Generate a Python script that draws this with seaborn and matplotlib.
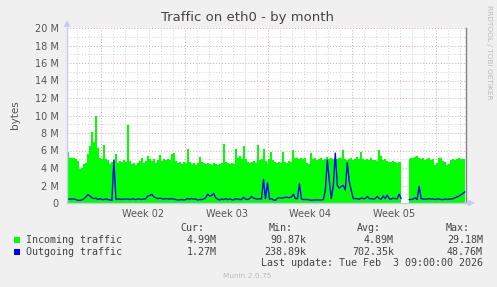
import numpy as np
import pandas as pd
import matplotlib
matplotlib.use("Agg")
import matplotlib.pyplot as plt
from matplotlib.patches import Polygon
from matplotlib.lines import Line2D
import seaborn as sns

# ---- data (values in M bytes, one sample every 4 hours) ----
nan = np.nan
incoming_m = [
    5.8, 5.2, 5.1, 5.1, 5.0, 4.8, 3.9, 4.0, 4.5, 4.6,
    5.6, 6.5, 8.1, 7.0, 9.9, 6.3, 5.2, 5.0, 6.6, 5.0,
    4.9, 4.5, 4.7, 4.8, 5.6, 4.6, 4.8, 4.7, 4.9, 4.7,
    8.9, 4.8, 4.5, 4.6, 4.3, 4.6, 4.8, 5.2, 4.6, 4.8,
    5.4, 5.0, 4.8, 5.0, 4.6, 4.9, 5.5, 4.8, 5.0, 4.9,
    5.0, 4.9, 5.6, 5.7, 4.8, 4.6, 4.7, 4.5, 4.7, 4.6,
    6.2, 4.7, 4.5, 4.6, 4.4, 4.6, 5.3, 4.7, 4.6, 4.5,
    4.6, 4.5, 4.4, 4.6, 4.5, 4.4, 4.5, 4.6, 6.8, 4.7,
    4.6, 4.5, 4.6, 4.5, 6.2, 5.2, 5.4, 5.0, 6.5, 5.0,
    4.7, 4.6, 4.7, 4.8, 4.6, 6.6, 4.9, 5.0, 6.2, 4.8,
    4.6, 5.0, 5.8, 4.9, 4.7, 4.6, 4.7, 4.6, 5.8, 4.7,
    4.6, 4.8, 4.7, 6.1, 5.1, 5.2, 5.0, 5.1, 5.0, 5.2,
    4.6, 4.5, 5.7, 5.0, 5.1, 4.9, 5.0, 5.1, 4.9, 5.0,
    5.3, 5.0, 5.1, 5.0, 5.1, 5.0, 5.2, 5.1, 6.1, 5.0,
    4.9, 5.0, 5.2, 4.9, 5.0, 5.3, 5.0, 5.8, 5.0, 4.9,
    5.0, 4.9, 5.1, 4.9, 4.9, 4.8, 6.1, 5.4, 4.9, 5.0,
    4.8, 4.7, 4.7, 4.8, 4.7, 4.6, 4.7, 4.7, nan, nan,
    nan, 5.0, 5.1, 5.2, 5.3, 5.4, 5.1, 5.0, 5.1, 4.9,
    5.0, 5.1, 4.9, 5.0, 4.4, 4.6, 5.1, 5.2, 4.8, 4.7,
    4.4, 4.5, 4.9, 5.0, 4.9, 5.0, 5.1, 5.0, 5.0, 4.99,
]
outgoing_m = [
    0.45, 0.45, 0.45, 0.45, 0.4, 0.3, 0.3, 0.35, 0.5, 0.7,
    0.95, 0.8, 0.6, 0.5, 0.55, 0.4, 0.5, 0.4, 0.4, 0.45,
    0.4, 0.35, 0.3, 4.9, 0.45, 0.45, 0.45, 0.4, 0.45, 0.45,
    0.45, 0.4, 0.45, 0.45, 0.4, 0.45, 0.45, 0.4, 0.45, 0.5,
    0.8, 0.85, 1.0, 0.7, 0.6, 0.5, 0.55, 0.5, 0.45, 0.5,
    0.5, 0.45, 0.5, 0.45, 0.4, 0.35, 0.35, 0.4, 0.35, 0.4,
    0.5, 0.45, 0.5, 0.45, 0.45, 0.35, 0.4, 0.4, 0.45, 0.6,
    1.0, 0.8, 0.85, 1.1, 0.6, 0.45, 0.35, 0.45, 0.4, 0.5,
    0.4, 0.45, 0.4, 0.35, 0.5, 0.45, 0.4, 0.4, 0.65, 0.45,
    0.4, 0.5, 0.75, 0.55, 0.5, 0.45, 0.5, 0.45, 2.7, 0.5,
    2.3, 0.45, 0.5, 0.35, 0.3, 0.55, 0.6, 0.55, 0.6, 0.65,
    0.65, 0.6, 0.7, 1.0, 0.5, 0.5, 2.2, 0.45, 0.4, 0.4,
    0.4, 0.35, 0.3, 0.35, 0.35, 0.35, 0.35, 0.35, 0.4, 1.5,
    4.9, 2.5, 0.5, 2.0, 5.7, 2.0, 1.7, 1.9, 2.0, 1.5,
    4.6, 2.4, 1.4, 0.5, 0.5, 0.5, 0.45, 0.55, 0.5, 0.5,
    0.75, 0.5, 0.5, 0.45, 0.5, 0.75, 0.5, 0.45, 0.8, 0.5,
    0.9, 0.5, 0.45, 0.55, 0.5, 0.5, 1.0, 0.5, nan, nan,
    nan, 0.4, 0.4, 0.45, 0.6, 0.4, 1.9, 0.5, 0.45, 0.45,
    0.45, 0.5, 0.45, 0.45, 0.4, 0.45, 0.45, 0.4, 0.4, 0.45,
    0.4, 0.45, 0.45, 0.5, 0.6, 0.7, 0.8, 0.95, 1.1, 1.27,
]
sample_hours = 4
first_monday_hour = 68          # hours from graph start to Monday Jan 5 00:00
week_labels = ["Week 02", "Week 03", "Week 04", "Week 05"]
y_ticks = [0, 2, 4, 6, 8, 10, 12, 14, 16, 18, 20]
y_ticklabels = ["0"] + [f"{v} M" for v in y_ticks[1:]]
series_names = ["Incoming traffic", "Outgoing traffic"]
series_colors = ["#00FF00", "#0000FF"]
cur_vals = ["4.99M", "1.27M"]
min_vals = ["90.87k", "238.89k"]
avg_vals = ["4.89M", "702.35k"]
max_vals = ["29.18M", "48.76M"]
title = "Traffic on eth0 - by month"
last_update = "Last update: Tue Feb  3 09:00:00 2026"

# ---- build frame ----
n = len(incoming_m)
hours = np.arange(n) * sample_hours + sample_hours / 2
df = pd.DataFrame({"hour": hours, "incoming": incoming_m, "outgoing": outgoing_m})
total_hours = n * sample_hours

sns.set_style("white")
plt.rcParams["font.family"] = ["DejaVu Sans"]

W, H = 497, 287
fig = plt.figure(figsize=(W / 100, H / 100), dpi=100, facecolor="#F0F0F0")
ax = fig.add_axes([67 / W, (H - 203) / H, 399 / W, 175 / H])
ax.set_facecolor("white")
ax.set_xlim(0, total_hours)
ax.set_ylim(0, 20)

# grid (behind the data)
minor_col, major_col = "#D2D2D2", "#E8A0A0"
dot = (0, (1, 2))
for h in np.arange(first_monday_hour % 24, total_hours, 24):
    is_major = (h - first_monday_hour) % 168 == 0
    ax.axvline(h, color=major_col if is_major else minor_col, lw=0.7, ls=dot, zorder=0)
for v in range(1, 21):
    ax.axhline(v, color=major_col if v % 2 == 0 else minor_col, lw=0.7, ls=dot, zorder=0)

# incoming area
ax.fill_between(df["hour"], 0, df["incoming"], step="mid", color=series_colors[0],
                lw=0, zorder=2)

# outgoing line, drawn per contiguous segment
valid = df["outgoing"].notna()
seg_id = (valid != valid.shift()).cumsum()
for _, seg in df[valid].groupby(seg_id[valid]):
    sns.lineplot(data=seg, x="hour", y="outgoing", ax=ax, color=series_colors[1],
                 lw=1.0, estimator=None, sort=False, zorder=3, legend=False)

# axes styling
ax.set_xlabel("")
ax.set_ylabel("")
ax.set_yticks(y_ticks)
ax.set_yticklabels(y_ticklabels)
label_pos = [first_monday_hour + 84 + 168 * k for k in range(len(week_labels))]
ax.set_xticks(label_pos)
ax.set_xticklabels(week_labels)
ax.tick_params(axis="both", length=0, labelsize=7, labelcolor="#555555")
ax.tick_params(axis="y", pad=6)
ax.tick_params(axis="x", pad=4)
for s in ["top"]:
    ax.spines[s].set_visible(False)
ax.spines["left"].set_color("#C8CCF0")
ax.spines["bottom"].set_color("#C8CCE0")
ax.spines["right"].set_color("#808080")
for s in ["left", "bottom", "right"]:
    ax.spines[s].set_linewidth(1.0)
    ax.spines[s].set_zorder(5)

# axis arrows (decoration)
fig.patches.append(Polygon([[63.5, H - 27], [70.5, H - 27], [67, H - 20]], closed=True,
                           transform=None, facecolor="#C8CCF0", edgecolor="none"))
fig.lines.append(Line2D([466, 469], [H - 203, H - 203], transform=None, color="#C8CCE0", lw=1))
fig.patches.append(Polygon([[468, H - 199.5], [468, H - 206.5], [475, H - 203]], closed=True,
                           transform=None, facecolor="#C8CCF0", edgecolor="none"))

# titles / labels
fig.text(247.5 / W, 1 - 18 / H, title, ha="center", va="center", fontsize=9.5, color="#444444")
fig.text(15 / W, 1 - 115 / H, "bytes", ha="center", va="center", rotation=90,
         fontsize=7.5, color="#555555")
fig.text(488.5 / W, 1 - 5 / H, "RRDTOOL / TOBI OETIKER", ha="center", va="top",
         rotation=270, fontsize=5.3, color="#BBBBBB")

# legend block (monospace)
mono = dict(family="DejaVu Sans Mono", fontsize=7.2, color="#444444", va="center")
col_right = [204, 293, 381, 470]
for xr, hdr in zip(col_right, ["Cur:", "Min:", "Avg:", "Max:"]):
    fig.text(xr / W, 1 - 228 / H, hdr, ha="right", **mono)
val_right = [217, 306, 394, 483]
rows_y = [240, 252]
for k in range(2):
    y = rows_y[k]
    fig.patches.append(Polygon([[14, H - y + 3], [20, H - y + 3], [20, H - y - 3], [14, H - y - 3]],
                               closed=True, transform=None, facecolor=series_colors[k],
                               edgecolor="none"))
    fig.text(26 / W, 1 - y / H, series_names[k], ha="left", **mono)
    for xr, vals in zip(val_right, [cur_vals, min_vals, avg_vals, max_vals]):
        fig.text(xr / W, 1 - y / H, vals[k], ha="right", **mono)
fig.text(483 / W, 1 - 263.5 / H, last_update, ha="right", **mono)
fig.text(247.5 / W, 1 - 276 / H, "Munin 2.0.75", ha="center", va="center",
         fontsize=5.3, color="#BBBBBB")

fig.savefig("out.png", dpi=100, facecolor=fig.get_facecolor())
